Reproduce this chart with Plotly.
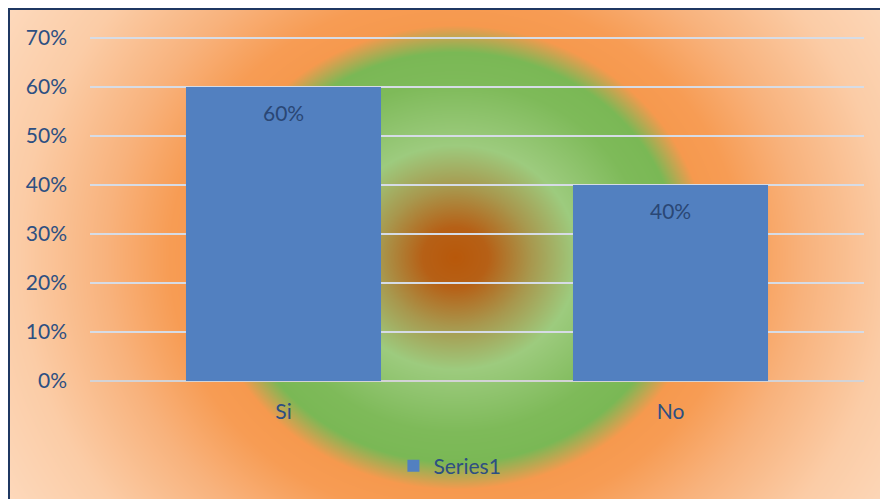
import base64
import struct
import zlib

import numpy as np
import plotly.graph_objects as go

# ---- data ----
categories = ["Si", "No"]
values = [0.60, 0.40]
series_name = "Series1"
y_tick_values = [0.0, 0.1, 0.2, 0.3, 0.4, 0.5, 0.6, 0.7]
y_tick_labels = ["0%", "10%", "20%", "30%", "40%", "50%", "60%", "70%"]

# ---- layout geometry ----
W, H = 880, 499
L, R, T, B = 90, 16, 33, 118
PW, PH = W - L - R, H - T - B

FONT = "Lato"
TEXT_COLOR = "#2d4f82"
LABEL_COLOR = "#2a4775"
BAR_COLOR = "#5280c0"


def gradient_background():
    yy, xx = np.mgrid[0:H, 0:W].astype(float)
    cx, cy = 455.0, 257.0
    t = np.sqrt(((xx - cx) / 1.09) ** 2 + (yy - cy) ** 2)
    stops_t = [0, 30, 70, 112, 175, 205, 232, 262, 320, 400, 480, 600]
    stops_c = np.array([
        (184, 88, 10),
        (182, 96, 22),
        (168, 152, 78),
        (157, 203, 126),
        (126, 186, 89),
        (122, 184, 85),
        (246, 153, 78),
        (247, 156, 84),
        (248, 178, 124),
        (251, 204, 166),
        (253, 217, 188),
        (253, 222, 198),
    ], dtype=float)
    img = np.stack([np.interp(t, stops_t, stops_c[:, k]) for k in range(3)], axis=-1)
    outside = (xx < 8) | (yy < 8)
    img[outside] = 255
    border = (((xx >= 8) & (xx < 10)) | ((yy >= 8) & (yy < 10))) & ~outside
    img[border] = (31, 56, 98)
    img = np.clip(np.round(img), 0, 255).astype(np.uint8)
    raw = b"".join(b"\x00" + img[r].tobytes() for r in range(H))

    def chunk(tag, data):
        return (struct.pack(">I", len(data)) + tag + data
                + struct.pack(">I", zlib.crc32(tag + data) & 0xFFFFFFFF))

    png = (b"\x89PNG\r\n\x1a\n"
           + chunk(b"IHDR", struct.pack(">IIBBBBB", W, H, 8, 2, 0, 0, 0))
           + chunk(b"IDAT", zlib.compress(raw, 9))
           + chunk(b"IEND", b""))
    return "data:image/png;base64," + base64.b64encode(png).decode()


fig = go.Figure()
fig.add_trace(go.Bar(
    x=categories,
    y=values,
    name=series_name,
    marker=dict(color=BAR_COLOR, line=dict(width=0)),
    showlegend=True,
    hoverinfo="skip",
))

annotations = [
    dict(x=c, y=v, xref="x", yref="y", text=f"{round(v * 100)}%",
         showarrow=False, yshift=-26,
         font=dict(family=FONT, size=21, color=LABEL_COLOR))
    for c, v in zip(categories, values)
]

fig.update_layout(
    width=W,
    height=H,
    margin=dict(l=L, r=R, t=T, b=B, pad=0),
    paper_bgcolor="white",
    plot_bgcolor="rgba(0,0,0,0)",
    bargap=0.496,
    font=dict(family=FONT, size=21, color=TEXT_COLOR),
    annotations=annotations,
    images=[dict(
        source=gradient_background(),
        xref="paper", yref="paper",
        x=-L / PW, y=1 + T / PH,
        sizex=W / PW, sizey=H / PH,
        xanchor="left", yanchor="top",
        sizing="stretch", layer="below",
    )],
    xaxis=dict(
        showgrid=False, showline=False, zeroline=False, ticks="",
        tickfont=dict(family=FONT, size=21, color=TEXT_COLOR),
        ticklabelstandoff=16,
    ),
    yaxis=dict(
        range=[0, 0.71],
        tickvals=y_tick_values,
        ticktext=y_tick_labels,
        showgrid=True, gridcolor="#d6dce6", gridwidth=2,
        zeroline=True, zerolinecolor="#d3d3d6", zerolinewidth=2,
        showline=False, ticks="",
        tickfont=dict(family=FONT, size=21, color=TEXT_COLOR),
        ticklabelstandoff=22,
    ),
    legend=dict(
        orientation="h",
        x=0.465, xanchor="center",
        y=(381 - 466) / PH, yanchor="middle",
        bgcolor="rgba(0,0,0,0)",
        font=dict(family=FONT, size=21, color=TEXT_COLOR),
        itemwidth=30,
    ),
)

fig.write_html("out.html")
